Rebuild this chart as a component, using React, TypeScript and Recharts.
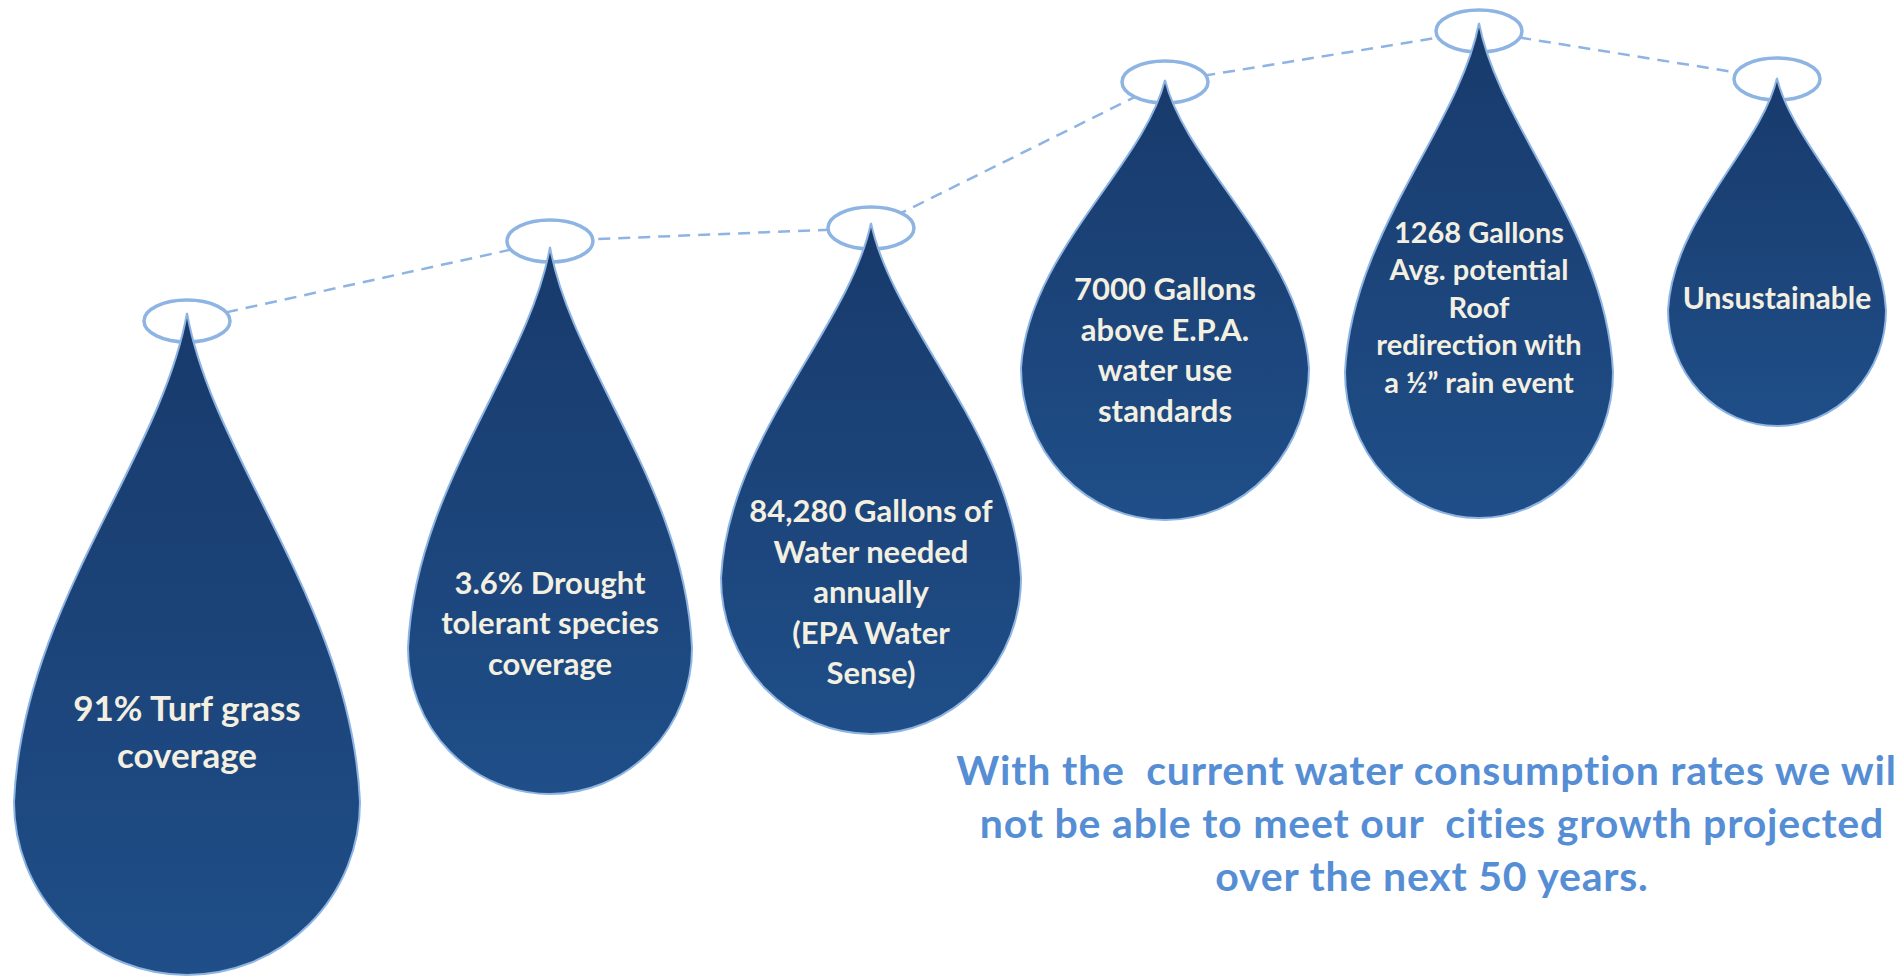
import React from 'react';
import { ComposedChart, Line, Scatter, XAxis, YAxis, Customized } from 'recharts';

const W = 1896;
const H = 976;

// one entry per drop, left to right
const facts = [
  ['91% Turf grass', 'coverage'],
  ['3.6% Drought', 'tolerant species', 'coverage'],
  ['84,280 Gallons of', 'Water needed', 'annually', '(EPA Water', 'Sense)'],
  ['7000 Gallons', 'above E.P.A.', 'water use', 'standards'],
  ['1268 Gallons', 'Avg. potential', 'Roof', 'redirection with', 'a ½” rain event'],
  ['Unsustainable'],
];
const dropX = [187, 550, 871, 1165, 1479, 1777];
const tipLevel = [663, 729, 753, 896, 953, 898];
const ringLevel = [655, 735, 748, 894, 945, 897];
const bulgeLevel = [174, 328, 398, 608, 604, 666];
const bottomLevel = [1, 182, 242, 456, 458, 550];
const halfWidth = [173, 142, 150, 144, 134, 109];
const labelLevel = [246, 354, 385, 627, 670, 679];

const note = [
  'With the  current water consumption rates we will',
  'not be able to meet our  cities growth projected',
  'over the next 50 years.',
];

const labelFont = [35, 31, 31, 31, 29, 30];
const labelGap = [47, 40.5, 40.5, 40.5, 37.5, 40];

const rows = facts.map((lines, i) => ({
  i,
  lines,
  x: dropX[i],
  tip: tipLevel[i],
  ring: ringLevel[i],
  bulge: bulgeLevel[i],
  bottom: bottomLevel[i],
  half: halfWidth[i],
  label: labelLevel[i],
}));

const LIGHT = '#8db4e2';

function DropShape(props: any) {
  const { cx, cy, payload } = props;
  if (cx == null || cy == null) return null;
  const i = payload.i;
  const ringY = cy + (payload.tip - payload.ring);
  const bulgeY = cy + (payload.tip - payload.bulge);
  const bottomY = cy + (payload.tip - payload.bottom);
  const r = payload.half;
  const ry = bottomY - bulgeY;
  const h = bulgeY - cy;
  const d =
    `M ${cx} ${cy} ` +
    `C ${cx + r * 0.15} ${cy + h * 0.3}, ${cx + r * 0.95} ${cy + h * 0.6}, ${cx + r} ${bulgeY} ` +
    `A ${r} ${ry} 0 0 1 ${cx - r} ${bulgeY} ` +
    `C ${cx - r * 0.95} ${cy + h * 0.6}, ${cx - r * 0.15} ${cy + h * 0.3}, ${cx} ${cy} Z`;
  const labelY = cy + (payload.tip - payload.label);
  const n = payload.lines.length;
  return (
    <g>
      <defs>
        <linearGradient id={`dropGrad${i}`} x1="0" y1="0" x2="0" y2="1">
          <stop offset="0%" stopColor="#183a6b" />
          <stop offset="100%" stopColor="#1f4e88" />
        </linearGradient>
      </defs>
      <ellipse cx={cx} cy={ringY} rx={43} ry={21} fill="#fff" stroke={LIGHT} strokeWidth={3.5} />
      <path d={d} fill={`url(#dropGrad${i})`} stroke={LIGHT} strokeWidth={2} />
      {payload.lines.map((t: string, k: number) => (
        <text
          key={k}
          x={cx}
          y={labelY + (k - (n - 1) / 2) * labelGap[i]}
          textAnchor="middle"
          dominantBaseline="central"
          fontFamily="Lato, 'Open Sans', sans-serif"
          fontWeight={700}
          fontSize={labelFont[i]}
          fill="#f3f0e2"
        >
          {t}
        </text>
      ))}
    </g>
  );
}

function NoteText() {
  return (
    <g>
      {note.map((t, k) => (
        <text
          key={k}
          x={1432}
          y={769 + k * 53}
          textAnchor="middle"
          dominantBaseline="central"
          fontFamily="Lato, 'Open Sans', sans-serif"
          fontWeight={700}
          fontSize={41}
          letterSpacing={0.8}
          fill="#558ed5"
          style={{ whiteSpace: 'pre' }}
        >
          {t}
        </text>
      ))}
    </g>
  );
}

export default function App() {
  return (
    <div style={{ position: 'absolute', left: 0, top: 0, width: W, height: H, background: '#fff', overflow: 'hidden' }}>
      <ComposedChart width={W} height={H} data={rows} margin={{ top: 0, right: 0, bottom: 0, left: 0 }}>
        <XAxis dataKey="x" type="number" domain={[0, W]} hide />
        <YAxis type="number" domain={[0, H]} hide />
        <Line
          type="linear"
          dataKey="ring"
          stroke={LIGHT}
          strokeWidth={2.5}
          strokeDasharray="12 8"
          dot={false}
          activeDot={false}
          isAnimationActive={false}
        />
        <Scatter dataKey="tip" shape={DropShape} isAnimationActive={false} />
        <Customized component={NoteText} />
      </ComposedChart>
    </div>
  );
}
